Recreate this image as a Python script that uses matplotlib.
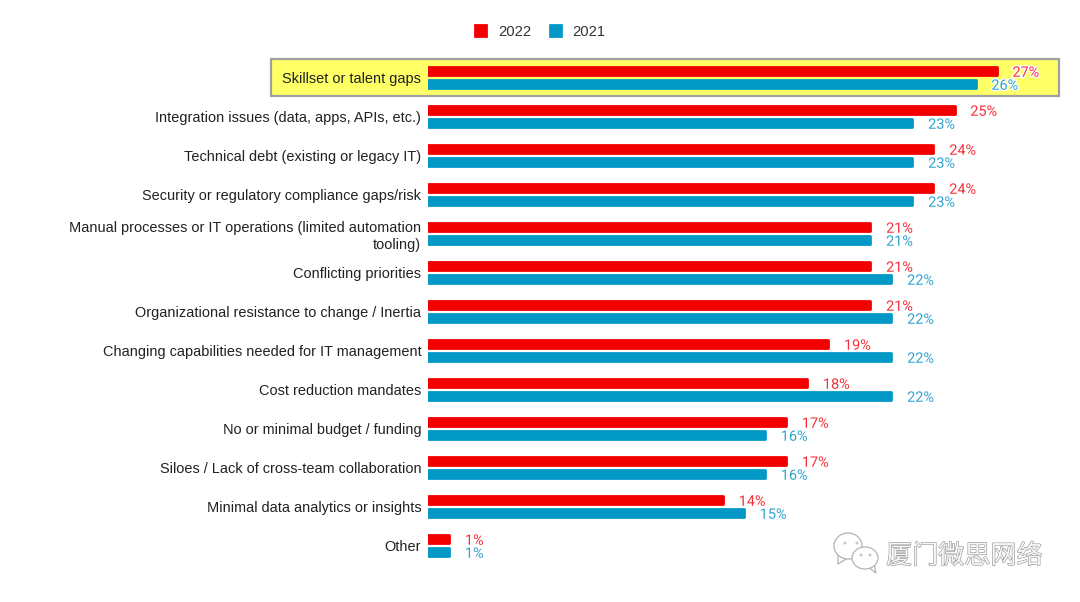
import matplotlib
matplotlib.use('Agg')
import matplotlib.pyplot as plt
import matplotlib.patheffects as pe
from matplotlib.patches import Rectangle, Ellipse, Polygon
from matplotlib.transforms import Affine2D, Bbox, TransformedBbox

categories = [
    'Skillset or talent gaps',
    'Integration issues (data, apps, APIs, etc.)',
    'Technical debt (existing or legacy IT)',
    'Security or regulatory compliance gaps/risk',
    'Manual processes or IT operations (limited automation\ntooling)',
    'Conflicting priorities',
    'Organizational resistance to change / Inertia',
    'Changing capabilities needed for IT management',
    'Cost reduction mandates',
    'No or minimal budget / funding',
    'Siloes / Lack of cross-team collaboration',
    'Minimal data analytics or insights',
    'Other',
]
values_2022 = [27, 25, 24, 24, 21, 21, 21, 19, 18, 17, 17, 14, 1]
values_2021 = [26, 23, 23, 23, 21, 22, 22, 22, 22, 16, 16, 15, 1]

RED = '#f20000'
BLUE = '#0399c6'
W, H = 1080, 602
X0 = 428        # pixel of 0%
PX_PER_PCT = 21.06
Y0 = 77.3       # pixel of first category
PITCH = 39

plt.rcParams['font.family'] = ['Liberation Sans', 'DejaVu Sans']

fig = plt.figure(figsize=(W / 100, H / 100), dpi=100)
ax = fig.add_axes([0, 0, 1, 1])
ax.set_xlim(-X0 / PX_PER_PCT, (W - X0) / PX_PER_PCT)
ax.set_ylim((H - Y0) / PITCH, -Y0 / PITCH)
for s in ax.spines.values():
    s.set_visible(False)
ax.spines['left'].set_position(('data', 0))
ax.set_xticks([])

# pixel coordinates, origin top left
px = Affine2D().scale(1, -1).translate(0, H)

# highlight box behind first row
ax.add_patch(Rectangle((271, 58.5), 788, 37.5, transform=px, fc='#ffff66',
                       ec='#a0a0a0', lw=1.6, zorder=1))

pos = list(range(len(categories)))
bar_h = 8 / PITCH
off = 6.5 / PITCH
bars_22 = ax.barh([p - off for p in pos], values_2022, height=bar_h, color=RED,
                  edgecolor=RED, lw=2, joinstyle='round', label='2022', zorder=2)
bars_21 = ax.barh([p + off for p in pos], values_2021, height=bar_h, color=BLUE,
                  edgecolor=BLUE, lw=2, joinstyle='round', label='2021', zorder=2)

# bars are rounded only on the right end
clip = TransformedBbox(Bbox([[0, -2], [40, 14]]), ax.transData)
for b in list(bars_22) + list(bars_21):
    b.set_clip_box(clip)

ax.set_yticks(pos)
ax.set_yticklabels(categories, fontsize=10.44, color='#222222', linespacing=1.3)
ax.tick_params(axis='y', length=0, pad=4.8)
for lab in ax.get_yticklabels():
    lab.set_zorder(3)

halo = [pe.withStroke(linewidth=2, foreground='white')]
for vals, bars, col in [(values_2022, bars_22, '#f5303a'), (values_2021, bars_21, '#2fa4d0')]:
    for v, b in zip(vals, bars):
        y = b.get_y() + b.get_height() / 2
        ax.annotate(f'{v}%', (v, y), xytext=(11.4, -1.4), textcoords='offset points',
                    ha='left', va='center', fontsize=10.4, color=col,
                    family='Roboto', path_effects=halo, zorder=4)

leg = ax.legend(handles=[bars_22, bars_21], loc='center', bbox_to_anchor=(540.5 / W, 1 - 32 / H),
                ncol=2, frameon=False, fontsize=10.6, handlelength=0.76, handleheight=0.76,
                handletextpad=0.8, columnspacing=1.25, labelcolor='#333333')

# watermark
wm = ax.text(886, 556, '厦门微思网络', transform=px, family=['Noto Sans CJK SC', 'DejaVu Sans'],
             fontsize=18.8, color='#f6f6f6', ha='left', va='center', zorder=5,
             path_effects=[pe.withStroke(linewidth=0.8, foreground='#909090')])
for cx, cy, w, h, tail in [(848, 546, 28, 26, [(838, 555), (838, 564), (848, 558)]),
                           (865, 558, 26, 22, [(868, 567), (876, 573), (874, 564)])]:
    ax.add_patch(Polygon(tail, transform=px, fc='white', ec='#b4b4b4', lw=0.9, zorder=5))
    ax.add_patch(Ellipse((cx, cy), w, h, transform=px, fc='white', ec='#b4b4b4', lw=0.9, zorder=5))
for dx, dy in [(845, 543), (857, 543), (861, 555), (870, 555)]:
    ax.add_patch(Ellipse((dx, dy), 3, 3, transform=px, fc='#c8c8c8', ec='none', zorder=6))

fig.savefig('out.png', dpi=100, facecolor='white')
